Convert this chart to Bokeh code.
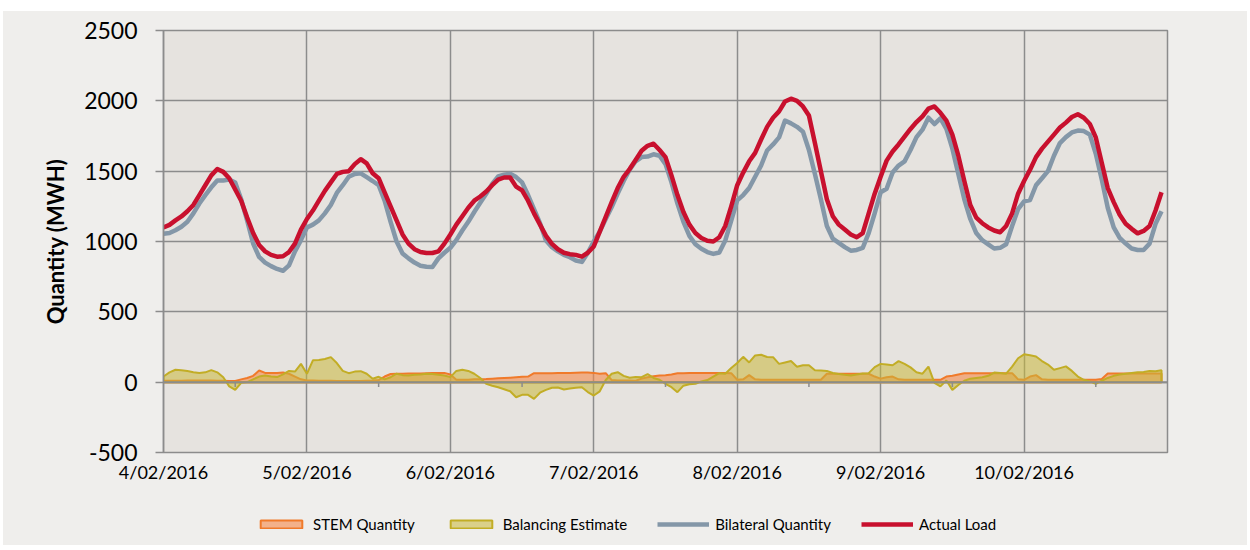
import numpy as np
from bokeh.plotting import figure
from bokeh.layouts import column
from bokeh.models import FixedTicker, Legend, LegendItem, Span
from bokeh.embed import file_html
from bokeh.resources import INLINE

# ---------------- data (hourly, 4/02/2016 00:00 .. 10/02/2016 23:00) ----------------
day_labels = ["4/02/2016", "5/02/2016", "6/02/2016", "7/02/2016",
              "8/02/2016", "9/02/2016", "10/02/2016"]

series_names = ["STEM Quantity", "Balancing Estimate", "Bilateral Quantity", "Actual Load"]

actual_load = [
    1100, 1118, 1150, 1178, 1215, 1260, 1330, 1400, 1470, 1515, 1495, 1450,
    1370, 1290, 1170, 1060, 975, 930, 905, 892, 895, 925, 985, 1085,
    1160, 1220, 1290, 1360, 1420, 1480, 1495, 1500, 1550, 1585, 1555, 1485,
    1450, 1350, 1250, 1150, 1050, 985, 945, 925, 918, 918, 930, 985,
    1050, 1120, 1180, 1240, 1290, 1320, 1355, 1400, 1440, 1455, 1455, 1390,
    1363, 1290, 1200, 1120, 1040, 983, 945, 920, 910, 905, 893, 920,
    965, 1070, 1175, 1280, 1380, 1460, 1515, 1580, 1645, 1680, 1695, 1650,
    1600, 1470, 1330, 1210, 1120, 1060, 1025, 1005, 1000, 1030, 1110, 1250,
    1400, 1490, 1570, 1630, 1725, 1815, 1880, 1925, 1995, 2015, 2000, 1960,
    1895, 1700, 1500, 1300, 1180, 1120, 1085, 1050, 1030, 1060, 1200, 1340,
    1460, 1575, 1640, 1690, 1745, 1800, 1849, 1890, 1945, 1960, 1915, 1860,
    1760, 1610, 1430, 1260, 1170, 1130, 1100, 1078, 1066, 1110, 1200, 1340,
    1430, 1510, 1600, 1660, 1710, 1760, 1810, 1845, 1885, 1905, 1880, 1835,
    1740, 1560, 1380, 1280, 1190, 1126, 1090, 1058, 1075, 1110, 1220, 1350,
]

bilateral_quantity = [
    1055, 1060, 1080, 1105, 1140, 1200, 1270, 1330, 1385, 1434, 1434, 1440,
    1420, 1300, 1149, 986, 890, 850, 825, 805, 792, 830, 930, 1010,
    1100, 1120, 1150, 1200, 1260, 1345, 1400, 1460, 1480, 1485, 1458, 1430,
    1400, 1290, 1140, 1000, 915, 880, 850, 828, 820, 818, 880, 920,
    955, 1010, 1078, 1140, 1210, 1275, 1339, 1410, 1462, 1475, 1482, 1458,
    1420, 1330, 1230, 1130, 1007, 960, 930, 905, 888, 865, 855, 920,
    1000, 1070, 1160, 1245, 1340, 1430, 1510, 1570, 1600, 1604, 1620, 1610,
    1550, 1420, 1270, 1140, 1040, 980, 948, 925, 912, 922, 1007, 1149,
    1292, 1330, 1380, 1460, 1540, 1647, 1690, 1740, 1860, 1840, 1815, 1780,
    1650, 1480, 1300, 1110, 1020, 990, 960, 935, 940, 955, 1060, 1200,
    1350, 1375, 1490, 1540, 1570, 1650, 1742, 1795, 1880, 1835, 1875, 1800,
    1660, 1480, 1300, 1160, 1060, 1010, 980, 950, 955, 980, 1110, 1230,
    1285, 1295, 1400, 1450, 1500, 1610, 1700, 1742, 1775, 1789, 1785, 1760,
    1624, 1440, 1240, 1100, 1025, 985, 950, 940, 940, 985, 1126, 1215,
]

stem_quantity = [
    10, 10, 10, 10, 12, 12, 12, 12, 12, 10, 10, 8, 8,
    20, 30, 45, 83, 66, 66, 66, 68, 60, 40, 20,
    12, 12, 10, 10, 10, 8, 8, 8, 8, 8, 10, 12,
    15, 40, 58, 60, 60, 62, 62, 62, 64, 65, 65, 66,
    55, 18, 18, 18, 20, 20, 22, 25, 28, 30, 32, 35, 38, 40,
    64, 64, 64, 64, 65, 66, 66, 67, 68, 68, 66, 60, 64,
    15, 12, 12, 12, 10,
    25, 35, 42, 48, 50, 55, 64, 64, 65, 65, 66, 66, 66, 66, 66, 64,
    17, 20, 50, 20, 17, 17, 17, 17, 17, 17, 17, 17, 17, 17, 17,
    60, 60, 60, 60, 60, 60, 60, 60,
    40, 25, 35, 40, 20, 17, 17, 17, 17, 17, 17, 17,
    40, 45, 55, 64, 64, 64, 64, 64, 64, 64, 64, 64,
    20, 17, 40, 50, 20, 17, 17, 17, 17, 17, 17, 17, 17, 17, 22,
    62, 62, 62, 62, 62, 62, 62, 62, 62, 62,
]

balancing_estimate = [
    40, 70, 88, 85, 80, 71, 66, 70, 86, 70, 35, -30, -55, -5, 0, 20, 40, 48, 40, 36, 55, 80, 75, 130,
    60, 155, 158, 165, 178, 136, 80, 64, 75, 78, 60, 24, 38, 20, 35, 60, 50, 48, 52, 55, 60, 58, 52, 48,
    36, 80, 88, 80, 60, 30, -12, -25, -36, -50, -65, -107, -90, -90, -119, -75, -55, -40, -38, -52, -45, -40, -36, -70,
    -95, -65, 15, 60, 71, 45, 31, 36, 35, 58, 30, 17, -12, -36, -71, -25, -15, -12, 5, 15, 40, 64, 60, 100,
    136, 180, 140, 190, 195, 179, 178, 130, 140, 150, 110, 120, 120, 85, 83, 80, 65, 58, 52, 48, 55, 62, 64, 107,
    130, 125, 120, 150, 130, 105, 70, 60, 110, -5, -30, 12, -55, -20, 10, 25, 30, 35, 45, 68, 65, 60, 110, 170,
    198, 192, 183, 150, 125, 88, 100, 112, 80, 40, 17, 5, -12, 10, 30, 45, 55, 60, 65, 70, 72, 80, 78, 85,
]

y_ticks = [-500, 0, 500, 1000, 1500, 2000, 2500]

# ---------------- derived positions ----------------
hours = np.arange(len(actual_load))
n_days = len(day_labels)
day_ticks = [24 * i for i in range(n_days)]
grid_ticks = [24 * i for i in range(n_days + 1)]
noon_ticks = np.array(day_ticks) + 12
xs_area = np.concatenate([hours, hours[::-1]])
zeros = np.zeros(len(hours))
stem_poly = np.concatenate([np.array(stem_quantity, float), zeros])
bal_poly = np.concatenate([np.array(balancing_estimate, float), zeros])

FONT = "Lato"
GRID = "#8c8c8c"
OUTER = "#efeeec"

STEM_FILL, STEM_LINE = "#f5894a", "#f07a2a"
BAL_FILL, BAL_LINE = "#c9b83a", "#c2ad26"
BIL_LINE = "#8497a8"
ACT_LINE = "#c8102e"

p = figure(width=1244, height=481, x_range=(0, 24 * n_days), y_range=(-500, 2500),
           output_backend="svg", toolbar_location=None,
           min_border_left=160, min_border_right=80, min_border_top=19, min_border_bottom=40)

p.background_fill_color = "#e6e3df"
p.border_fill_color = OUTER
p.outline_line_color = GRID
p.outline_line_width = 1.5

# grids
p.xgrid.ticker = FixedTicker(ticks=grid_ticks)
p.ygrid.ticker = FixedTicker(ticks=y_ticks)
for g in (p.xgrid, p.ygrid):
    g.grid_line_color = GRID
    g.grid_line_width = 1.5

# axes
p.xaxis.ticker = FixedTicker(ticks=day_ticks)
p.xaxis.major_label_overrides = {t: lab for t, lab in zip(day_ticks, day_labels)}
p.xaxis.axis_line_color = None
p.xaxis.major_tick_line_color = None
p.xaxis.major_tick_out = 0
p.xaxis.major_tick_in = 0
p.xaxis.minor_tick_line_color = None
p.xaxis.major_label_text_font = FONT
p.xaxis.major_label_text_font_size = "18px"
p.xaxis.major_label_text_color = "#000000"
p.xaxis.major_label_standoff = 8

p.yaxis.ticker = FixedTicker(ticks=y_ticks)
p.yaxis.major_label_overrides = {t: str(t) for t in y_ticks}
p.yaxis.axis_line_color = GRID
p.yaxis.axis_line_width = 1.5
p.yaxis.major_tick_line_color = GRID
p.yaxis.major_tick_line_width = 1.5
p.yaxis.major_tick_out = 8
p.yaxis.major_tick_in = 0
p.yaxis.minor_tick_line_color = None
p.yaxis.major_label_text_font = FONT
p.yaxis.major_label_text_font_size = "23px"
p.yaxis.major_label_text_color = "#000000"
p.yaxis.major_label_standoff = 18
p.yaxis.axis_label = "Quantity (MWH)"
p.yaxis.axis_label_text_font = FONT
p.yaxis.axis_label_text_font_size = "22px"
p.yaxis.axis_label_text_font_style = "bold"
p.yaxis.axis_label_text_color = "#000000"
p.yaxis.axis_label_standoff = 12

# areas (closed to zero baseline)
p.patch(xs_area, stem_poly, fill_color=STEM_FILL, fill_alpha=0.6, line_color=STEM_LINE, line_width=2)
p.patch(xs_area, bal_poly, fill_color=BAL_FILL, fill_alpha=0.55, line_color=BAL_LINE, line_width=2)

# zero axis line and noon minor ticks
p.add_layout(Span(location=0, dimension="width", line_color=GRID, line_width=2))
p.segment(x0=noon_ticks, y0=0, x1=noon_ticks, y1=-35, line_color=GRID, line_width=1.5)

# lines
p.line(hours, bilateral_quantity, line_color=BIL_LINE, line_width=4.5, line_join="round")
p.line(hours, actual_load, line_color=ACT_LINE, line_width=4.5, line_join="round")

# ---------------- legend strip below the chart ----------------
# same series, drawn in a strip whose y-range lies far above the data, so only the legend shows
lf = figure(width=1244, height=53, x_range=(0, 24 * n_days), y_range=(9000, 9001),
            output_backend="svg", toolbar_location=None,
            x_axis_type=None, y_axis_type=None, min_border=0)
lf.background_fill_color = None
lf.border_fill_color = OUTER
lf.outline_line_color = None
lf.grid.visible = False

r_stem = lf.patch(xs_area, stem_poly, fill_color=STEM_FILL, fill_alpha=0.6, line_color=STEM_LINE, line_width=2)
r_bal = lf.patch(xs_area, bal_poly, fill_color=BAL_FILL, fill_alpha=0.55, line_color=BAL_LINE, line_width=2)
r_bil = lf.line(hours, bilateral_quantity, line_color=BIL_LINE, line_width=4.5)
r_act = lf.line(hours, actual_load, line_color=ACT_LINE, line_width=4.5)

legend = Legend(items=[LegendItem(label=n, renderers=[r])
                       for n, r in zip(series_names, [r_stem, r_bal, r_bil, r_act])],
                location=(92, 12), orientation="horizontal")
legend.glyph_width = 52
legend.glyph_height = 10
legend.label_standoff = 6
legend.spacing = 30
legend.padding = 0
legend.margin = 0
legend.label_text_font = FONT
legend.label_text_font_size = "15px"
legend.label_text_color = "#000000"
legend.background_fill_alpha = 0
legend.border_line_alpha = 0
lf.add_layout(legend)

layout = column(p, lf, spacing=0, margin=(11, 3, 5, 3),
                styles={"background-color": OUTER})
open("out.html", "w").write(file_html(layout, INLINE))
